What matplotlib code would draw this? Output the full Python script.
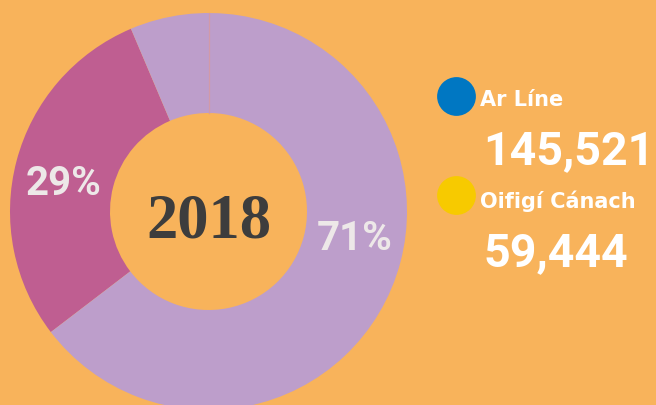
import matplotlib.pyplot as plt

# channel totals for the year
year = "2018"
channels = ["Oifigí Cánach", "Ar Líne"]
totals = [59444, 145521]
ring_colors = ["#BF5E91", "#BD9ECB"]
legend_names = ["Ar Líne", "Oifigí Cánach"]
legend_values = [145521, 59444]
legend_colors = ["#0077C2", "#F7CA00"]

bg = "#F8B35B"
W, H = 656, 405

fig = plt.figure(figsize=(W / 100, H / 100), dpi=100, facecolor=bg)
ax = fig.add_axes([0, 0, 1, 1], facecolor=bg)

# donut, centred left and running off the bottom edge
cx, cy, r = 208.5, H - 211.5, 198.5
ax.pie(totals, colors=ring_colors, startangle=113, counterclock=True,
       center=(cx, cy), radius=r, frame=True,
       wedgeprops=dict(width=r - 98.5, linewidth=0))
ax.plot([cx, cx], [cy + 98.5, cy + r], color="#D29AA8", lw=0.9, zorder=5)

ax.set_xlim(0, W)
ax.set_ylim(0, H)
ax.set_aspect("equal")
ax.axis("off")

# percentage labels on the ring
share = [round(100 * t / sum(totals)) for t in totals]
pct_kw = dict(color="#EDE8E8", fontsize=29, fontweight="bold",
              family="Roboto", va="baseline", ha="left")
ax.text(26, H - 195, f"{share[0]}%", **pct_kw)
ax.text(317, H - 250, f"{share[1]}%", **pct_kw)

# year in the hole
ax.text(cx, H - 238, year, color="#3D3D3D", fontsize=45, fontweight="bold",
        family="Liberation Serif", ha="center", va="baseline")

# legend with totals
rows = [(96, 106, 164), (195, 208, 266)]
for (dot_y, name_y, val_y), name, val, col in zip(rows, legend_names,
                                                  legend_values, legend_colors):
    ax.scatter([456], [H - dot_y], s=780, color=col, linewidths=0)
    ax.text(480, H - name_y, name, color="white", fontsize=15,
            fontweight="bold", family="DejaVu Sans", va="baseline", ha="left")
    ax.text(483, H - val_y, f"{val:,}", color="white", fontsize=33.5,
            fontweight="bold", family="Roboto", va="baseline", ha="left")

fig.savefig("out.png", dpi=100, facecolor=bg)
